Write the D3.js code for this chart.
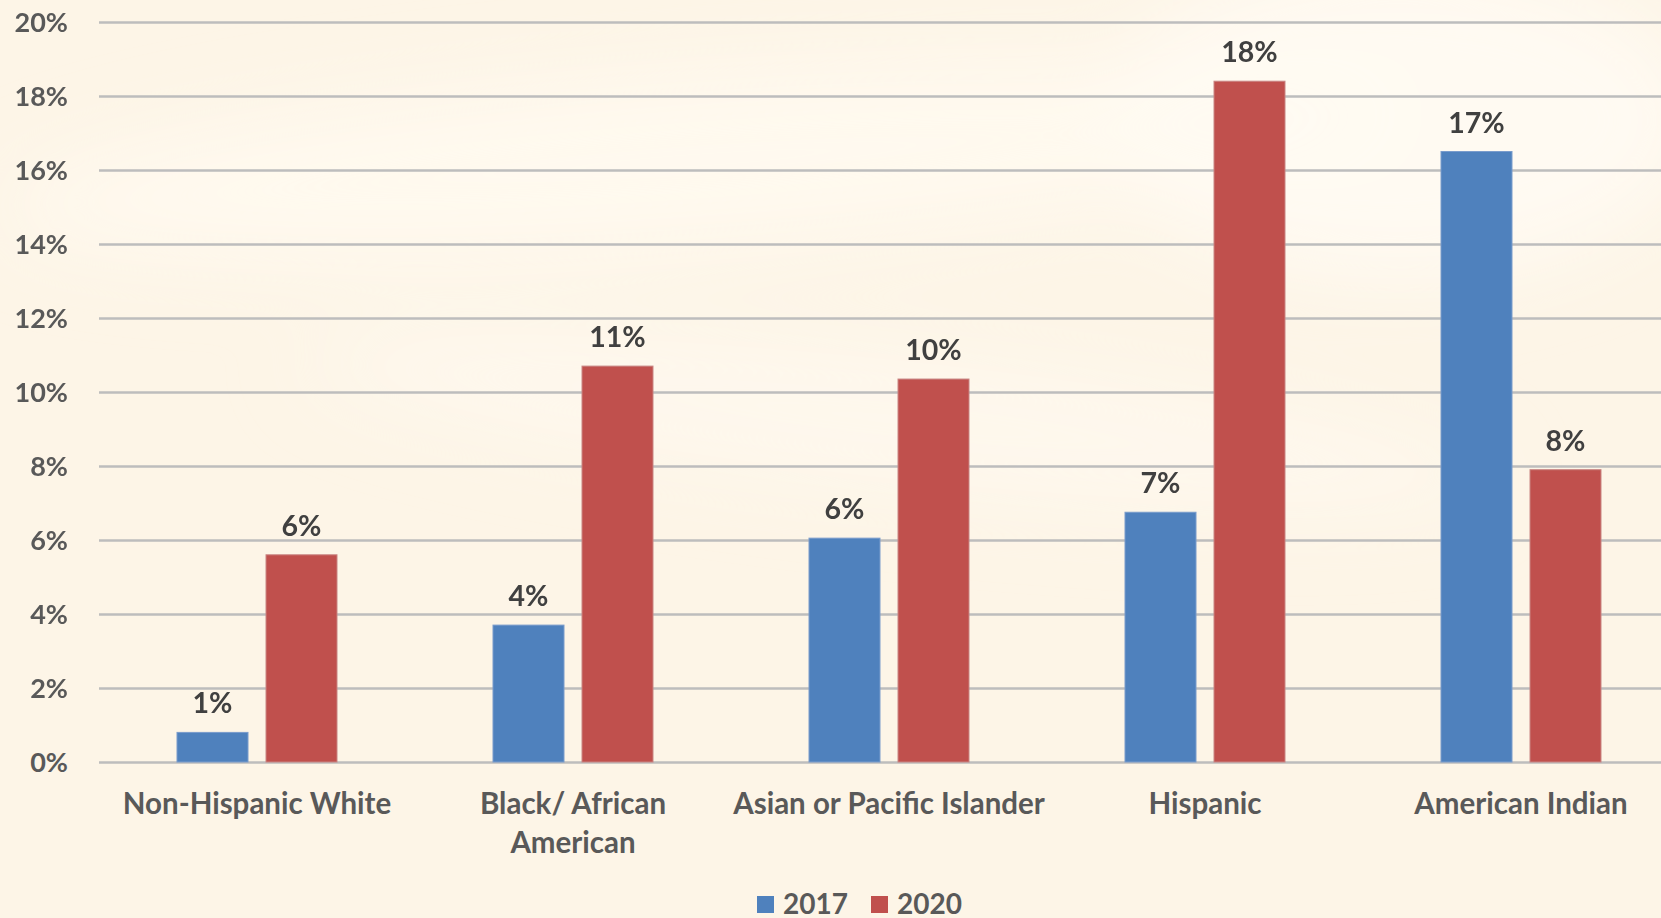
<!DOCTYPE html>
<html>
<head>
<meta charset="utf-8">
<script src="https://d3js.org/d3.v7.min.js"></script>
<style>
  html, body { margin: 0; padding: 0; background: #fdf5e7; overflow: hidden; }
  text { font-family: Lato, "Open Sans", sans-serif; font-weight: bold; }
</style>
</head>
<body>
<div id="chart-area"></div>
<script>
// data
var categories = ["Non-Hispanic White", "Black/ African American", "Asian or Pacific Islander", "Hispanic", "American Indian"];
var series = ["2017", "2020"];
var values2017 = [0.008, 0.037, 0.0605, 0.0675, 0.165];
var values2020 = [0.056, 0.107, 0.1035, 0.184, 0.079];
var yTicks = [0, 0.02, 0.04, 0.06, 0.08, 0.10, 0.12, 0.14, 0.16, 0.18, 0.20];
var colors = ["#4f81bd", "#c0504d"];

var W = 1661, H = 918;
var margins = { left: 99, right: -18, top: 22, bottom: 156 };
var width = W - margins.left - margins.right;
var height = H - margins.top - margins.bottom;

var svg = d3.select("#chart-area")
    .append("svg")
    .attr("width", W)
    .attr("height", H);

// soft background swooshes
var defs = svg.append("defs");
var blur = defs.append("filter").attr("id", "blur")
    .attr("x", "-50%").attr("y", "-50%").attr("width", "200%").attr("height", "200%");
blur.append("feGaussianBlur").attr("stdDeviation", 40);

svg.append("rect").attr("width", W).attr("height", H).attr("fill", "#fdf5e7");
var bg = svg.append("g").attr("filter", "url(#blur)");
bg.append("ellipse").attr("cx", 700).attr("cy", 160).attr("rx", 700).attr("ry", 90)
    .attr("fill", "#fffaf0").attr("opacity", 0.9)
    .attr("transform", "rotate(-4 700 160)");
bg.append("ellipse").attr("cx", 1400).attr("cy", 120).attr("rx", 300).attr("ry", 160)
    .attr("fill", "#fffbf3").attr("opacity", 0.9);
bg.append("ellipse").attr("cx", 900).attr("cy", 420).attr("rx", 600).attr("ry", 70)
    .attr("fill", "#fffaf1").attr("opacity", 0.6)
    .attr("transform", "rotate(6 900 420)");

var g = svg.append("g")
    .attr("transform", "translate(" + margins.left + ", " + margins.top + ")");

var x = d3.scaleBand()
    .domain(categories)
    .range([0, width]);

var y = d3.scaleLinear()
    .domain([0, 0.20])
    .range([height, 0]);

var barW = 71, barGap = 18;
var x1 = d3.scaleBand()
    .domain(series)
    .range([x.bandwidth() / 2 - barW - barGap / 2, x.bandwidth() / 2 + barW + barGap / 2])
    .paddingInner(barGap / (barW + barGap));

// gridlines + y labels
var yAxis = g.append("g")
    .attr("class", "y axis")
    .call(d3.axisLeft(y).tickValues(yTicks).tickSize(-width).tickFormat(d3.format(".0%")));
yAxis.select(".domain").remove();
yAxis.selectAll(".tick line")
    .attr("stroke", "#bdbdbd")
    .attr("stroke-width", 2.5);
yAxis.selectAll(".tick text")
    .attr("x", -31)
    .attr("dy", "0.36em")
    .attr("fill", "#595959")
    .attr("font-size", "27px");

var rows = categories.map(function(c, i) {
    return { cat: c, vals: [values2017[i], values2020[i]] };
});

var groups = g.selectAll(".grp")
    .data(rows)
    .enter()
    .append("g")
    .attr("class", "grp")
    .attr("transform", function(d) { return "translate(" + x(d.cat) + ",0)"; });

groups.selectAll("rect")
    .data(function(d) { return d.vals.map(function(v, j) { return { s: series[j], v: v, j: j }; }); })
    .enter()
    .append("rect")
    .attr("x", function(d) { return x1(d.s); })
    .attr("y", function(d) { return y(d.v); })
    .attr("width", x1.bandwidth())
    .attr("height", function(d) { return height - y(d.v); })
    .attr("fill", function(d) { return colors[d.j]; })
    .attr("stroke", function(d) { return d.j === 0 ? "#7a9ccc" : "#c98583"; })
    .attr("stroke-width", 1);

groups.selectAll(".lbl")
    .data(function(d) { return d.vals.map(function(v, j) { return { s: series[j], v: v }; }); })
    .enter()
    .append("text")
    .attr("class", "lbl")
    .attr("x", function(d) { return x1(d.s) + x1.bandwidth() / 2; })
    .attr("y", function(d) { return y(d.v) - 19; })
    .attr("text-anchor", "middle")
    .attr("fill", "#404040")
    .attr("font-size", "28.5px")
    .text(function(d) { return d3.format(".0%")(d.v); });

// category labels (wrap Black/ African American)
var catLines = {
    "Black/ African American": ["Black/ African", "American"]
};
categories.forEach(function(c) {
    var lines = catLines[c] || [c];
    var t = g.append("text")
        .attr("x", x(c) + x.bandwidth() / 2)
        .attr("y", height + 52)
        .attr("text-anchor", "middle")
        .attr("fill", "#595959")
        .attr("font-size", "29.5px");
    lines.forEach(function(l, i) {
        t.append("tspan")
            .attr("x", x(c) + x.bandwidth() / 2)
            .attr("dy", i === 0 ? 0 : 39)
            .text(l);
    });
});

// legend
var legend = svg.append("g").attr("transform", "translate(757, 896)");
series.forEach(function(s, i) {
    var lg = legend.append("g").attr("transform", "translate(" + (i * 114) + ",0)");
    lg.append("rect").attr("width", 17).attr("height", 17).attr("fill", colors[i]);
    lg.append("text").attr("x", 26).attr("y", 18)
        .attr("fill", "#595959").attr("font-size", "28px").text(s);
});
</script>
</body>
</html>
